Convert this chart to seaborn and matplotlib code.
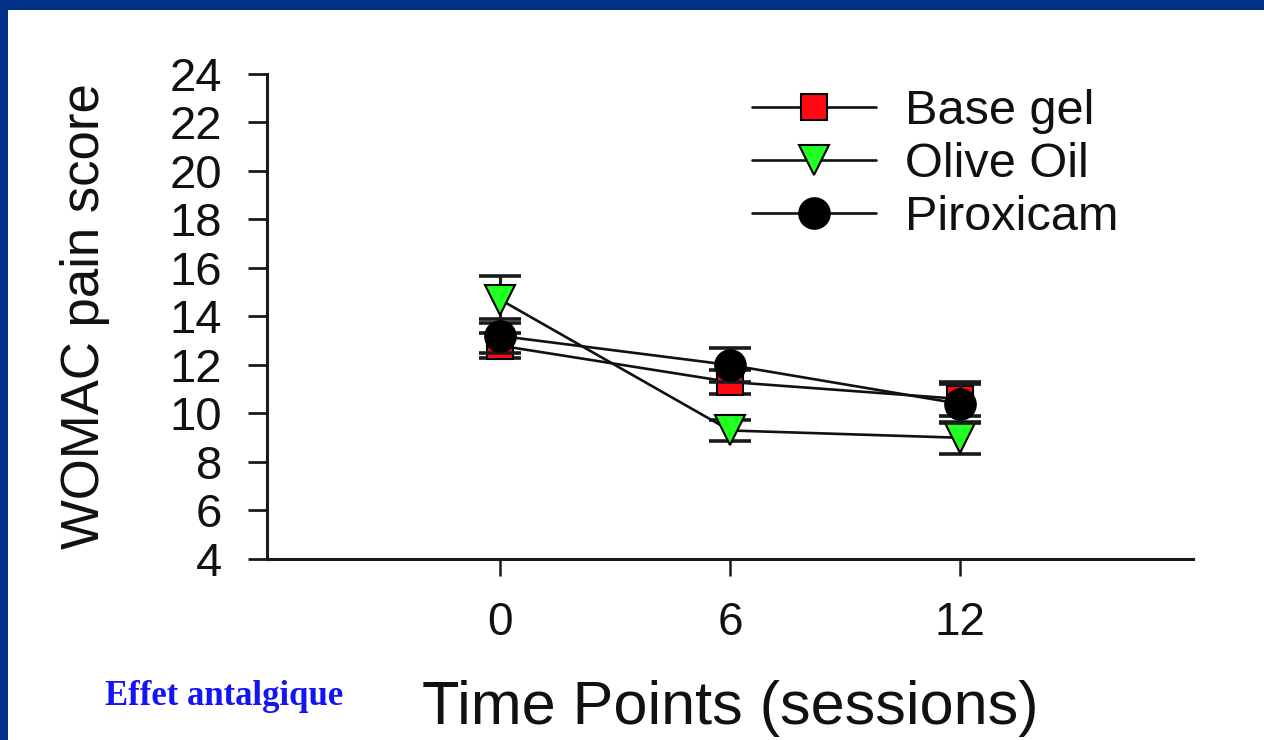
import numpy as np
import pandas as pd
import matplotlib
matplotlib.use("Agg")
import matplotlib.pyplot as plt
from matplotlib.patches import Rectangle
import seaborn as sns

# ---- data ----
time_points = [0, 6, 12]
series_names = ["Base gel", "Olive Oil", "Piroxicam"]
base_gel = [12.8, 11.3, 10.6]
base_gel_err = [0.5, 0.5, 0.7]
olive_oil = [14.7, 9.3, 9.0]
olive_oil_err = [0.95, 0.45, 0.65]
piroxicam = [13.2, 12.0, 10.4]
piroxicam_err = [0.7, 0.7, 0.8]
y_ticks = [4, 6, 8, 10, 12, 14, 16, 18, 20, 22, 24]
x_label = "Time Points (sessions)"
y_label = "WOMAC pain score"
side_note = "Effet antalgique"

sns.set_theme(style="white")
plt.rcParams["font.family"] = ["Liberation Sans", "DejaVu Sans"]

fig = plt.figure(figsize=(12.64, 7.40), dpi=100)
fig.patch.set_facecolor("white")
ax = fig.add_axes([0.2112, 0.2446, 0.9438 - 0.2112, 0.9 - 0.2446])
ax.set_facecolor("white")

frames = []
for name, vals, errs in [("Base gel", base_gel, base_gel_err),
                         ("Olive Oil", olive_oil, olive_oil_err),
                         ("Piroxicam", piroxicam, piroxicam_err)]:
    frames.append(pd.DataFrame({"time": time_points, "score": vals, "err": errs, "group": name}))
df = pd.concat(frames, ignore_index=True)

styles = {
    "Base gel": dict(marker="s", mfc="#FF0A14", ms=19),
    "Olive Oil": dict(marker="v", mfc="#22FF22", ms=22),
    "Piroxicam": dict(marker="o", mfc="black", ms=22),
}

for i, name in enumerate(series_names):
    d = df[df["group"] == name]
    ax.errorbar(d["time"], d["score"], yerr=d["err"], fmt="none",
                ecolor="#1a1a1a", elinewidth=2.2, capsize=15, capthick=2.6, zorder=2 + i)
    st = styles[name]
    sns.lineplot(data=d, x="time", y="score", ax=ax, color="#111111", linewidth=1.9,
                 marker=st["marker"], markersize=st["ms"], markerfacecolor=st["mfc"],
                 markeredgecolor="black", markeredgewidth=1.5, label=name,
                 errorbar=None, zorder=3 + i)

ax.set_xlim(-6.08, 18.08)
ax.set_ylim(4, 24)
ax.set_xticks(time_points)
ax.set_xticklabels([str(t) for t in time_points])
ax.set_yticks(y_ticks)
ax.set_yticklabels([str(t) for t in y_ticks])

for side in ["top", "right"]:
    ax.spines[side].set_visible(False)
for side in ["left", "bottom"]:
    ax.spines[side].set_color("#1a1a1a")
    ax.spines[side].set_linewidth(2.2)

ax.tick_params(axis="y", direction="out", length=13.5, width=2.0, color="#1a1a1a",
               labelsize=34, pad=19, left=True)
ax.tick_params(axis="x", direction="out", length=12, width=1.8, color="#1a1a1a",
               labelsize=33, pad=18, bottom=True)
for lbl in ax.get_xticklabels() + ax.get_yticklabels():
    lbl.set_color("#111111")

ax.set_xlabel(x_label, fontsize=44, color="#111111")
ax.set_ylabel(y_label, fontsize=38, color="#111111")
ax.xaxis.set_label_coords(0.5, -0.25)
ax.yaxis.set_label_coords(-0.17, 0.5)

leg = ax.legend(loc="upper left", bbox_to_anchor=(0.595, 0.88), bbox_transform=fig.transFigure,
                frameon=False, fontsize=35, handlelength=2.55, handletextpad=0.6,
                labelspacing=0.17, borderpad=0, borderaxespad=0)
for t in leg.get_texts():
    t.set_color("#111111")

fig.text(105 / 1264, 1 - 705 / 740, side_note, fontsize=25, fontweight="bold",
         color="#1414F5", family=["Liberation Serif", "DejaVu Serif"], ha="left", va="baseline")

# blue slide frame
fig.add_artist(Rectangle((0, 1 - 10 / 740), 1, 10 / 740, transform=fig.transFigure,
                         facecolor="#00308A", edgecolor="none", zorder=10))
fig.add_artist(Rectangle((0, 0), 8 / 1264, 1, transform=fig.transFigure,
                         facecolor="#00308A", edgecolor="none", zorder=10))

fig.savefig("out.png", dpi=100, facecolor="white")
